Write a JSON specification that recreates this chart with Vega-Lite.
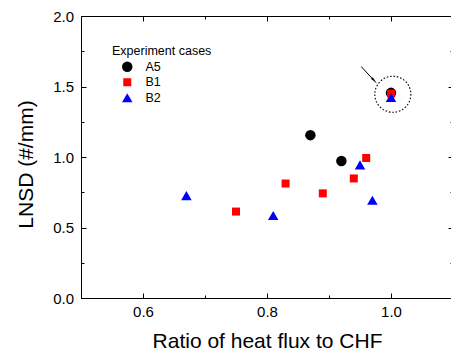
{
  "$schema": "https://vega.github.io/schema/vega-lite/v6.json",
  "width": 372,
  "height": 282,
  "autosize": "none",
  "padding": {"left": 81, "top": 16, "right": 0, "bottom": 56},
  "background": "white",
  "config": {
    "view": {"stroke": null},
    "font": "Liberation Sans",
    "axis": {
      "domainColor": "black",
      "domainWidth": 1,
      "tickColor": "black",
      "tickWidth": 1,
      "labelColor": "black",
      "titleColor": "black",
      "titleFontWeight": "normal",
      "grid": false,
      "labelFlush": false,
      "labelOverlap": false,
      "labelBound": false
    }
  },
  "datasets": {
    "pts": [
      {"ratio": 0.87, "lnsd": 1.155, "series": "A5"},
      {"ratio": 0.92, "lnsd": 0.972, "series": "A5"},
      {"ratio": 1.0, "lnsd": 1.455, "series": "A5"},
      {"ratio": 0.75, "lnsd": 0.613, "series": "B1"},
      {"ratio": 0.83, "lnsd": 0.812, "series": "B1"},
      {"ratio": 0.89, "lnsd": 0.742, "series": "B1"},
      {"ratio": 0.94, "lnsd": 0.848, "series": "B1"},
      {"ratio": 0.96, "lnsd": 0.993, "series": "B1"},
      {"ratio": 1.0, "lnsd": 1.45, "series": "B1"},
      {"ratio": 0.67, "lnsd": 0.726, "series": "B2"},
      {"ratio": 0.81, "lnsd": 0.585, "series": "B2"},
      {"ratio": 0.95, "lnsd": 0.944, "series": "B2"},
      {"ratio": 0.97, "lnsd": 0.693, "series": "B2"},
      {"ratio": 1.0, "lnsd": 1.422, "series": "B2"}
    ],
    "ring": [{"ratio": 1.003, "lnsd": 1.445}],
    "arrow": [{"ratio": 0.952, "lnsd": 1.641, "ratio2": 0.972, "lnsd2": 1.546}],
    "head": [{"ratio": 0.972, "lnsd": 1.546}]
  },
  "resolve": {"axis": {"x": "independent", "y": "independent"}},
  "layer": [
    {
      "data": {"name": "pts"},
      "mark": {"type": "point", "filled": true, "opacity": 1, "strokeWidth": 0},
      "encoding": {
        "x": {
          "field": "ratio", "type": "quantitative",
          "scale": {"domain": [0.5, 1.1], "nice": false, "zero": false},
          "axis": {
            "orient": "bottom",
            "values": [0.5, 0.6, 0.7, 0.8, 0.9, 1.0, 1.1],
            "format": ".1f",
            "labelExpr": "(round(datum.value*10)%2==0) ? datum.label : ''",
            "tickSize": {"condition": {"test": "round(datum.value*10)%2==0", "value": -5}, "value": -3},
            "labelFontSize": 15,
            "labelPadding": 11,
            "title": "Ratio of heat flux to CHF",
            "titleFontSize": 21,
            "titleBaseline": "alphabetic",
            "titleY": 49.6
          }
        },
        "y": {
          "field": "lnsd", "type": "quantitative",
          "scale": {"domain": [0, 2], "nice": false, "zero": false},
          "axis": {
            "orient": "left",
            "values": [0, 0.25, 0.5, 0.75, 1.0, 1.25, 1.5, 1.75, 2.0],
            "format": ".1f",
            "labelExpr": "(round(datum.value*4)%2==0) ? datum.label : ''",
            "tickSize": {"condition": {"test": "round(datum.value*4)%2==0", "value": -5}, "value": -3},
            "labelFontSize": 15,
            "labelPadding": 12.4,
            "title": "LNSD (#/mm)",
            "titleFontSize": 21,
            "titleBaseline": "alphabetic",
            "titleX": -48.4,
            "titleY": 148,
            "titleAngle": 270
          }
        },
        "color": {
          "field": "series", "type": "nominal",
          "scale": {"domain": ["A5", "B1", "B2"], "range": ["#000000", "#ff0000", "#0000ff"]},
          "legend": {
            "title": "Experiment cases",
            "orient": "none",
            "legendX": 31,
            "legendY": 28.5,
            "titleFontSize": 12.5,
            "titleFontWeight": "normal",
            "titleColor": "black",
            "titlePadding": 3.5,
            "labelFontSize": 12.5,
            "labelColor": "black",
            "symbolOffset": 9,
            "labelOffset": 12,
            "rowPadding": 2.5,
            "padding": 0
          }
        },
        "shape": {
          "field": "series", "type": "nominal",
          "scale": {"domain": ["A5", "B1", "B2"], "range": ["circle", "square", "triangle-up"]},
          "legend": {"title": "Experiment cases"}
        },
        "size": {
          "field": "series", "type": "nominal",
          "scale": {"type": "ordinal", "domain": ["A5", "B1", "B2"], "range": [110, 64, 110]},
          "legend": {"title": "Experiment cases"}
        }
      }
    },
    {
      "data": {"name": "pts"},
      "mark": {"type": "point", "opacity": 0},
      "encoding": {
        "x": {
          "field": "ratio", "type": "quantitative",
          "axis": {
            "orient": "top",
            "values": [0.5, 0.6, 0.7, 0.8, 0.9, 1.0, 1.1],
            "labels": false,
            "title": null,
            "tickSize": {"condition": {"test": "round(datum.value*10)%2==0", "value": -5}, "value": -3}
          }
        },
        "y": {
          "field": "lnsd", "type": "quantitative",
          "axis": {
            "orient": "right",
            "values": [0, 0.25, 0.5, 0.75, 1.0, 1.25, 1.5, 1.75, 2.0],
            "labels": false,
            "title": null,
            "tickSize": {"condition": {"test": "round(datum.value*4)%2==0", "value": -5}, "value": -3}
          }
        }
      }
    },
    {
      "data": {"name": "ring"},
      "mark": {"type": "point", "shape": "circle", "filled": false, "stroke": "black", "strokeWidth": 1.1, "strokeDash": [1.6, 1.8], "size": 1300, "opacity": 1},
      "encoding": {
        "x": {"field": "ratio", "type": "quantitative", "axis": null},
        "y": {"field": "lnsd", "type": "quantitative", "axis": null}
      }
    },
    {
      "data": {"name": "arrow"},
      "mark": {"type": "rule", "color": "black", "strokeWidth": 1},
      "encoding": {
        "x": {"field": "ratio", "type": "quantitative", "axis": null},
        "y": {"field": "lnsd", "type": "quantitative", "axis": null},
        "x2": {"field": "ratio2"},
        "y2": {"field": "lnsd2"}
      }
    },
    {
      "data": {"name": "head"},
      "mark": {"type": "point", "shape": "wedge", "filled": true, "color": "black", "size": 80, "angle": 138, "opacity": 1},
      "encoding": {
        "x": {"field": "ratio", "type": "quantitative", "axis": null},
        "y": {"field": "lnsd", "type": "quantitative", "axis": null}
      }
    }
  ]
}
